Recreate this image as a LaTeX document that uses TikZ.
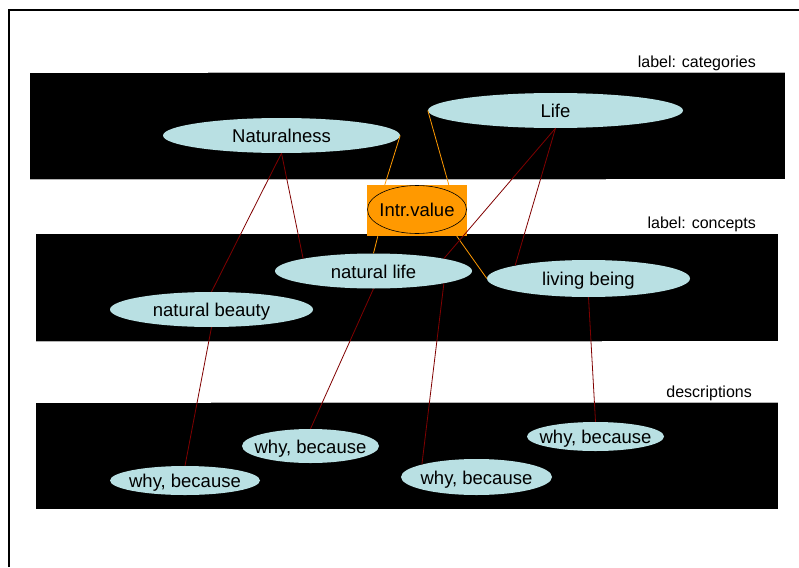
\documentclass[tikz,border=0pt]{standalone}
\usepackage{fontspec}
\setmainfont{Liberation Sans}
\usepackage{tikz}
\usetikzlibrary{shapes.geometric,calc}
\definecolor{bubblecolor}{HTML}{B9E0E3}
\definecolor{valuecolor}{HTML}{FF9900}
\definecolor{linkcolor}{HTML}{800000}

\begin{document}
\begin{tikzpicture}[x=1pt,y=-1pt,
  concept/.style={ellipse,fill=bubblecolor,inner sep=0pt,text height=14pt,text depth=0pt,
    font=\fontsize{18.5}{20}\selectfont},
  link/.style={linkcolor,line width=0.8pt},
  vlink/.style={valuecolor,line width=0.8pt},
  rim/.style={gray!60,line width=0.8pt},
  tag/.style={anchor=east,inner sep=0pt,font=\fontsize{16}{18}\selectfont}]
  \useasboundingbox (0,0) rectangle (799,567);
  % Frame
  \draw[line width=2pt] (9,567) -- (9,10) -- (799,10);
  % Bands
  \fill (30,73) rectangle (785,179);
  \fill (36,234) rectangle (778,341);
  \fill (36,403) rectangle (778,509);
  \draw[rim] (208,72.5) -- (785,72.5);
  \draw[rim] (30,179.5) -- (606,179.5);
  \draw[rim] (36,341.5) -- (602,341.5);
  \draw[rim] (211,402.5) -- (778,402.5);
  % Band labels
  \node[tag] (labcat) at (756,63) {label: categories};
  \node[tag] (labcon) at (756,224.5) {label: concepts};
  \node[tag] (labdesc) at (752,393) {descriptions};
  % Categories
  \node[concept,minimum width=237,minimum height=35] (natness) at (281.5,135.5) {\makebox[0pt]{Naturalness}};
  \node[concept,minimum width=255,minimum height=35] (life) at (555.5,110.5) {\makebox[0pt]{Life}};
  % Intrinsic value
  \node[fill=valuecolor,minimum width=100,minimum height=51,inner sep=0pt] (ivbox) at (417,210.5) {};
  \node[concept,draw,line width=0.6pt,fill=valuecolor,minimum width=99,minimum height=48] (iv) at (417,209.5) {\makebox[0pt]{Intr.value}};
  % Concepts
  \node[concept,minimum width=197,minimum height=35] (natlife) at (373.5,271) {\makebox[0pt]{natural life}};
  \node[concept,minimum width=203,minimum height=37] (livbeing) at (588.5,278.5) {\makebox[0pt]{living being}};
  \node[concept,minimum width=203,minimum height=35] (natbeauty) at (211.5,309.5) {\makebox[0pt]{natural beauty}};
  % Descriptions
  \node[concept,minimum width=150,minimum height=29] (why1) at (185,480.5) {\makebox[0pt]{why, because}};
  \node[concept,minimum width=137,minimum height=34] (why2) at (310.5,446) {\makebox[0pt]{why, because}};
  \node[concept,minimum width=151,minimum height=36] (why3) at (476.5,477) {\makebox[0pt]{why, because}};
  \node[concept,minimum width=137,minimum height=29] (why4) at (595.5,436.5) {\makebox[0pt]{why, because}};
  % Links to the value
  \draw[vlink] (natness.east) -- ($(ivbox.north west)+(18,0)$);
  \draw[vlink] ($(ivbox.south west)+(11,0)$) -- (natlife.north);
  \draw[vlink] (life.west) -- ($(ivbox.north west)+(82,0)$);
  \draw[vlink] ($(ivbox.south west)+(90,0)$) -- (livbeing.west);
  % Links between levels
  \draw[link] (natness.south) -- (natbeauty.north);
  \draw[link] (natness.south) -- (natlife.170);
  \draw[link] (life.south) -- (natlife.10);
  \draw[link] (life.south) -- (livbeing.170);
  \draw[link] (natbeauty.south) -- (why1.north);
  \draw[link] (natlife.south) -- (why2.north);
  \draw[link] (natlife.-10) -- (why3.167);
  \draw[link] (livbeing.south) -- (why4.north);
\end{tikzpicture}
\end{document}
